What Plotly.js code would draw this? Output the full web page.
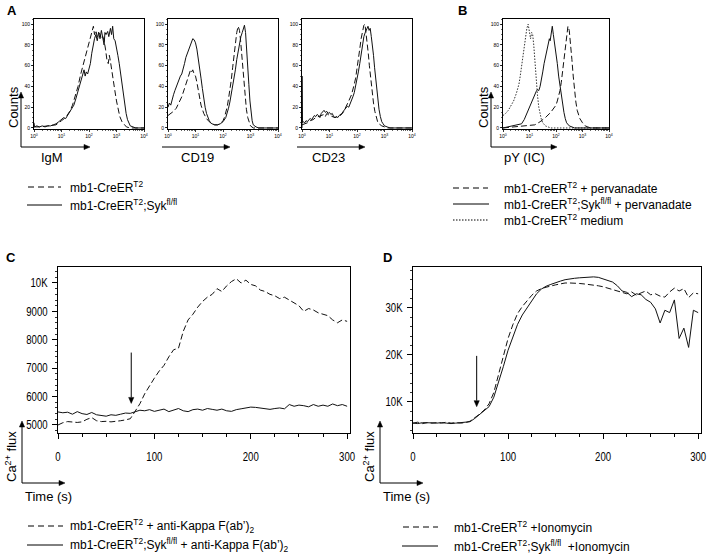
<!DOCTYPE html>
<html><head><meta charset="utf-8">
<script src="https://cdn.plot.ly/plotly-3.0.1.min.js"></script>
<style>html,body{margin:0;padding:0;background:#fff}#chart{width:709px;height:559px}</style>
</head><body><div id="chart"></div>
<script>
// ---------- Panel A: histograms (x = log10 fluorescence, y = counts) ----------
const igmCtrlX = [0,0.2,0.5,0.8,1.0,1.1,1.2,1.3,1.4,1.5,1.6,1.7,1.78,1.85,1.92,2.0,2.06,2.12,2.16,2.2,2.25,2.3,2.35,2.4,2.45,2.5,2.55,2.6,2.65,2.7,2.74,2.78,2.82,2.88,2.94,3.0,3.06,3.12,3.2,3.28,3.36,3.5,4.0];
const igmCtrlY = [1,1,2,3,7,9,12,16,22,30,40,52,60,68,75,84,90,96,98,90,94,88,92,90,86,88,84,76,66,62,70,64,56,46,36,26,18,11,6,3,1,0,0];
const igmSykX = [0,0.02,0.1,0.2,0.3,0.4,0.5,0.6,0.7,0.8,0.9,1.0,1.08,1.15,1.22,1.3,1.38,1.45,1.52,1.58,1.64,1.7,1.76,1.82,1.86,1.9,1.95,2.0,2.05,2.1,2.15,2.2,2.25,2.3,2.35,2.4,2.45,2.5,2.55,2.58,2.62,2.68,2.72,2.78,2.82,2.86,2.9,2.95,3.0,3.05,3.1,3.15,3.2,3.25,3.3,3.35,3.4,3.45,3.5,3.6,3.7,4.0];
const igmSykY = [5,1,2,1,2,1,2,2,3,4,6,8,10,9,12,15,18,22,28,34,38,44,50,56,50,54,52,58,62,72,80,86,90,84,92,86,94,88,80,92,90,93,88,96,90,98,86,84,78,70,62,52,42,32,22,14,8,4,2,1,0,0];

const cd19CtrlX = [0,0.1,0.2,0.3,0.4,0.5,0.6,0.7,0.78,0.82,0.86,0.9,0.95,1.0,1.05,1.1,1.15,1.2,1.3,1.4,1.5,1.6,1.7,1.8,1.9,2.0,2.05,2.1,2.15,2.2,2.25,2.3,2.35,2.4,2.45,2.5,2.55,2.6,2.64,2.68,2.72,2.76,2.8,2.85,2.9,2.95,3.0,3.1,4.0];
const cd19CtrlY = [12,14,16,19,24,30,38,46,52,56,54,56,52,50,44,36,28,22,14,9,6,4,3,3,4,7,10,14,20,28,36,46,58,70,82,92,98,94,84,70,56,42,30,18,10,5,2,0,0];
const cd19SykX = [0,0.05,0.1,0.15,0.2,0.25,0.3,0.35,0.4,0.45,0.5,0.55,0.6,0.65,0.7,0.75,0.8,0.85,0.9,0.95,1.0,1.05,1.1,1.15,1.2,1.25,1.3,1.35,1.4,1.45,1.5,1.55,1.6,1.7,1.8,1.9,2.0,2.1,2.15,2.2,2.25,2.3,2.35,2.4,2.45,2.5,2.55,2.6,2.65,2.7,2.75,2.78,2.82,2.86,2.9,2.94,2.98,3.02,3.06,3.1,3.2,3.3,4.0];
const cd19SykY = [20,24,22,28,32,36,40,42,46,50,52,56,62,68,72,76,80,84,86,85,82,76,68,58,48,38,28,20,14,10,7,5,4,3,3,4,6,10,14,19,25,32,40,48,56,66,74,82,88,92,97,99,92,78,60,42,26,14,7,3,1,0,0];

const cd23CtrlX = [0,0.1,0.2,0.3,0.4,0.5,0.6,0.7,0.8,0.85,0.9,1.0,1.1,1.2,1.3,1.4,1.5,1.6,1.7,1.8,1.85,1.9,1.95,2.0,2.05,2.1,2.15,2.2,2.25,2.29,2.33,2.37,2.41,2.45,2.5,2.55,2.6,2.65,2.7,2.75,2.8,2.9,3.0,3.1,4.0];
const cd23CtrlY = [3,4,5,7,8,10,11,12,13,11,14,12,11,10,11,12,15,20,26,32,36,42,48,56,66,76,86,94,99,100,92,84,72,60,46,34,24,16,10,6,4,2,1,0,0];
const cd23SykX = [0,0,0.02,0.05,0.1,0.15,0.2,0.25,0.3,0.35,0.4,0.45,0.5,0.55,0.6,0.65,0.7,0.75,0.8,0.85,0.9,0.95,1.0,1.05,1.1,1.15,1.2,1.25,1.3,1.35,1.4,1.45,1.5,1.55,1.6,1.65,1.7,1.75,1.8,1.85,1.9,1.95,2.0,2.05,2.1,2.15,2.2,2.25,2.3,2.35,2.4,2.44,2.48,2.52,2.56,2.6,2.64,2.68,2.72,2.76,2.8,2.85,2.9,2.95,3.0,3.1,3.2,4.0];
const cd23SykY = [0,50,5,6,5,7,6,8,9,8,10,12,11,13,12,10,14,16,17,15,16,14,15,13,14,11,10,11,10,12,13,14,16,18,19,21,20,23,26,30,34,40,46,54,62,72,82,88,92,96,98,94,96,88,80,70,58,46,36,26,18,11,6,4,2,1,0,0];

// ---------- Panel B: pY (IC) histograms ----------
const pyMediumX = [0,0.1,0.2,0.3,0.4,0.5,0.6,0.65,0.7,0.75,0.8,0.85,0.9,0.95,1.0,1.04,1.08,1.12,1.16,1.2,1.25,1.3,1.35,1.4,1.45,1.5,1.6,1.7,1.8,4.0];
const pyMediumY = [12,14,17,21,26,33,42,50,60,70,80,88,96,100,92,86,92,90,80,64,46,32,20,13,8,5,2,1,0,0];
const pySykX = [0,0.2,0.4,0.55,0.7,0.8,0.9,1.0,1.05,1.1,1.15,1.2,1.25,1.3,1.35,1.4,1.45,1.5,1.55,1.6,1.65,1.7,1.75,1.78,1.82,1.86,1.9,1.95,2.0,2.05,2.1,2.15,2.2,2.25,2.3,2.35,2.4,2.5,2.6,2.7,4.0];
const pySykY = [0,1,2,3,4,8,14,20,24,27,30,33,35,37,36,40,46,54,62,68,74,80,86,84,92,98,90,82,72,62,50,40,30,22,15,9,5,2,1,0,0];
const pyCtrlX = [0,0.5,1.0,1.2,1.4,1.6,1.8,1.9,2.0,2.05,2.1,2.15,2.2,2.25,2.3,2.35,2.4,2.45,2.5,2.55,2.6,2.65,2.7,2.75,2.8,2.9,3.0,3.1,3.2,3.3,4.0];
const pyCtrlY = [0,1,2,3,6,10,15,18,22,26,30,36,44,56,68,80,92,98,94,82,66,50,36,25,17,9,5,2,1,0,0];

const decadeVals = [0,1,2,3,4];
const decadeLabels = ['10<sup>0</sup>','10<sup>1</sup>','10<sup>2</sup>','10<sup>3</sup>','10<sup>4</sup>'];
const countVals = [0,20,40,60,80,100];
const countLabels = ['0','20','40','60','80','100'];

// ---------- Panels C & D: Ca2+ flux over time ----------
const timeS = [0,5,10,15,20,25,30,35,40,45,50,55,60,65,70,75,80,85,90,95,100,105,110,115,120,125,130,135,140,145,150,155,160,165,170,175,180,185,190,195,200,205,210,215,220,225,230,235,240,245,250,255,260,265,270,275,280,285,290,295,300];
const fluxC_ctrl = [5000,5080,5120,5100,5090,5110,5200,5260,5150,5120,5130,5110,5120,5150,5180,5220,5480,5750,6100,6400,6650,6900,7100,7400,7650,7700,8300,8700,8900,9150,9350,9500,9600,9800,9700,9900,10050,10150,10000,10100,9950,9900,9750,9700,9600,9550,9450,9500,9400,9300,9200,9000,9100,9050,8950,8900,8850,8700,8600,8700,8650];
const fluxC_syk = [5460,5430,5450,5380,5470,5400,5370,5440,5360,5330,5310,5360,5340,5380,5420,5410,5470,5520,5500,5540,5480,5530,5560,5470,5520,5580,5500,5470,5540,5560,5520,5580,5550,5520,5560,5500,5480,5540,5570,5600,5630,5620,5600,5580,5550,5580,5600,5570,5720,5660,5700,5680,5640,5720,5660,5700,5660,5740,5680,5720,5660];
const fluxD_ctrl = [5500,5700,5400,5600,5500,5600,5500,5700,5500,5600,5500,5600,5900,6600,7400,8300,9600,12000,16000,19800,23500,26400,28800,30300,31500,32700,33600,34100,34400,34700,34900,35100,35300,35300,35300,35200,35100,35000,34900,34700,34500,34200,33900,33500,33200,33000,33400,32700,33200,33600,32800,33000,32500,32300,33400,34200,33600,34100,32200,33200,33000];
const fluxD_syk = [5500,5400,5600,5500,5550,5500,5600,5500,5400,5500,5600,5600,5800,6500,7300,8000,9000,11000,14000,17500,21000,24000,26500,28500,30000,31500,33000,34000,34600,35000,35400,35700,36000,36200,36300,36400,36500,36550,36600,36500,36200,35900,35500,34700,33600,33300,32400,33000,32800,31800,31200,29800,26800,29500,29000,31700,23500,25700,21600,29500,29000];
const cTickVals = [5000,6000,7000,8000,9000,10000];
const cTickText = ['5000','6000','7000','8000','9000','10K'];
const dTickVals = [10000,20000,30000];
const dTickText = ['10K','20K','30K'];
const timeTicks = [0,100,200,300];
// stimulus arrows: [time, tail value, head value]
const stimC = [76, 7550, 5760];
const stimD = [67, 19800, 9000];

// ---------- layout helpers ----------
const W = 709, H = 559;
const xd = (a, b) => [a / W, b / W];
const yd = (top, bot) => [(H - bot) / H, (H - top) / H];
const px = x => x / W, py = y => (H - y) / H;
const FONT = 'Liberation Sans, Arial, Helvetica, sans-serif';
const NARROW = 'Liberation Sans Narrow, Arial Narrow, Liberation Sans, Arial, sans-serif';

const minorLog = [];
for (let d = 0; d < 4; d++) for (let k = 2; k <= 9; k++) minorLog.push(d + Math.log10(k));

function histX(dom, anchor) {
  return {domain: dom, anchor: anchor, range: [0, 4], showline: true, mirror: true, linecolor: '#000', linewidth: 1,
    ticks: 'outside', ticklen: 2, tickwidth: 0.8, tickcolor: '#000', tickvals: decadeVals, ticktext: decadeLabels,
    tickfont: {size: 5, color: '#000', family: FONT}, showgrid: false, zeroline: false, ticklabelstandoff: 0,
    minor: {ticks: 'outside', tickvals: minorLog, ticklen: 1.2, tickwidth: 0.6, tickcolor: '#000', showgrid: false}};
}
function histY(dom, anchor) {
  return {domain: dom, anchor: anchor, range: [-1, 105], showline: true, mirror: true, linecolor: '#000', linewidth: 1,
    ticks: 'outside', ticklen: 2, tickwidth: 0.8, tickcolor: '#000', tickvals: countVals, ticktext: countLabels,
    tickfont: {size: 5, color: '#000', family: FONT}, showgrid: false, zeroline: false, ticklabelstandoff: 0,
    minor: {ticks: 'outside', dtick: 5, ticklen: 1.2, tickwidth: 0.6, tickcolor: '#000', showgrid: false}};
}
function timeX(dom, anchor, rng) {
  return {domain: dom, anchor: anchor, range: rng, showline: true, mirror: true, linecolor: '#000', linewidth: 1,
    ticks: 'outside', ticklen: 5, tickwidth: 1, tickcolor: '#000', tickvals: timeTicks, ticklabeloverflow: 'allow',
    tickfont: {size: 12, color: '#000', family: NARROW}, showgrid: false, zeroline: false, ticklabelstandoff: 8,
    minor: {ticks: 'outside', dtick: 25, ticklen: 3, tickwidth: 1, tickcolor: '#000', showgrid: false}};
}
function fluxY(dom, anchor, rng, tv, tt, mdt) {
  return {domain: dom, anchor: anchor, range: rng, showline: true, mirror: true, linecolor: '#000', linewidth: 1,
    ticks: 'outside', ticklen: 5, tickwidth: 1, tickcolor: '#000', tickvals: tv, ticktext: tt,
    tickfont: {size: 12, color: '#000', family: NARROW}, showgrid: false, zeroline: false, ticklabelstandoff: 2,
    minor: {ticks: 'outside', dtick: mdt, ticklen: 2, tickwidth: 0.8, tickcolor: '#000', showgrid: false}};
}

const SOLID = {color: '#111', width: 1};
const DASH = {color: '#111', width: 1, dash: '6px,3px'};
const DOT = {color: '#333', width: 1, dash: '1.5px,1.5px'};
function tr(x, y, xa, ya, line) {
  return {type: 'scatter', mode: 'lines', x: x, y: y, xaxis: xa, yaxis: ya, line: line, hoverinfo: 'skip', showlegend: false};
}

const data = [
  tr(igmCtrlX, igmCtrlY, 'x', 'y', DASH), tr(igmSykX, igmSykY, 'x', 'y', SOLID),
  tr(cd19CtrlX, cd19CtrlY, 'x2', 'y2', DASH), tr(cd19SykX, cd19SykY, 'x2', 'y2', SOLID),
  tr(cd23CtrlX, cd23CtrlY, 'x3', 'y3', DASH), tr(cd23SykX, cd23SykY, 'x3', 'y3', SOLID),
  tr(pyMediumX, pyMediumY, 'x4', 'y4', DOT), tr(pySykX, pySykY, 'x4', 'y4', SOLID), tr(pyCtrlX, pyCtrlY, 'x4', 'y4', DASH),
  tr(timeS, fluxC_ctrl, 'x5', 'y5', DASH), tr(timeS, fluxC_syk, 'x5', 'y5', SOLID),
  tr(timeS, fluxD_ctrl, 'x6', 'y6', DASH), tr(timeS, fluxD_syk, 'x6', 'y6', SOLID)
];

const yHist = yd(19, 129);
const C_BOX = {x0: 58, x1: 350, top: 267, bot: 433, xr: [0, 303], yr: [4718, 10563]};
const D_BOX = {x0: 413, x1: 701, top: 267, bot: 433, xr: [0, 303], yr: [3400, 38700]};
const layout = {
  width: W, height: H, margin: {l: 0, r: 0, t: 0, b: 0}, paper_bgcolor: '#fff', plot_bgcolor: '#fff',
  showlegend: false, font: {family: FONT, color: '#000'},
  xaxis: histX(xd(34, 144), 'y'), yaxis: histY(yHist, 'x'),
  xaxis2: histX(xd(168, 278), 'y2'), yaxis2: histY(yHist, 'x2'),
  xaxis3: histX(xd(302, 412), 'y3'), yaxis3: histY(yHist, 'x3'),
  xaxis4: histX(xd(503, 609), 'y4'), yaxis4: histY(yHist, 'x4'),
  xaxis5: timeX(xd(C_BOX.x0, C_BOX.x1), 'y5', C_BOX.xr), yaxis5: fluxY(yd(C_BOX.top, C_BOX.bot), 'x5', C_BOX.yr, cTickVals, cTickText, 200),
  xaxis6: timeX(xd(D_BOX.x0, D_BOX.x1), 'y6', D_BOX.xr), yaxis6: fluxY(yd(D_BOX.top, D_BOX.bot), 'x6', D_BOX.yr, dTickVals, dTickText, 2000),
  shapes: [], annotations: []
};

function txt(x, y, text, opts) {
  layout.annotations.push(Object.assign({xref: 'paper', yref: 'paper', x: px(x), y: py(y), text: text, showarrow: false,
    xanchor: 'left', yanchor: 'middle', font: {size: 12, family: FONT, color: '#000'}}, opts || {}));
}
// arrow drawn as shapes: head at (x1,y1), tail at (x0,y0) in pixels
function arrow(x1, y1, x0, y0) {
  const L = Math.hypot(x1 - x0, y1 - y0), dx = (x1 - x0) / L, dy = (y1 - y0) / L;
  const hl = 6, hw = 2.6;
  const bx = x1 - hl * dx, by = y1 - hl * dy;
  layout.shapes.push({type: 'line', xref: 'paper', yref: 'paper', x0: px(x0), y0: py(y0), x1: px(bx), y1: py(by),
    line: {color: '#000', width: 1}});
  const p = (x, y) => px(x) + ',' + py(y);
  layout.shapes.push({type: 'path', xref: 'paper', yref: 'paper',
    path: 'M' + p(x1, y1) + ' L' + p(bx - hw * dy, by + hw * dx) + ' L' + p(bx + hw * dy, by - hw * dx) + ' Z',
    fillcolor: '#000', line: {color: '#000', width: 0.5}});
}
function dataPx(box, t, v) {
  return [box.x0 + (t - box.xr[0]) / (box.xr[1] - box.xr[0]) * (box.x1 - box.x0),
          box.bot - (v - box.yr[0]) / (box.yr[1] - box.yr[0]) * (box.bot - box.top)];
}
function stimArrow(box, s) {
  const head = dataPx(box, s[0], s[2]), tail = dataPx(box, s[0], s[1]);
  arrow(head[0], head[1], tail[0], tail[1]);
}
function seg(x0, x1, y, dash) {
  layout.shapes.push({type: 'line', xref: 'paper', yref: 'paper', x0: px(x0), x1: px(x1), y0: py(y), y1: py(y),
    line: {color: '#000', width: 1, dash: dash}});
}

// panel letters
txt(5, 10, '<b>A</b>', {font: {size: 13, family: FONT}});
txt(456, 10, '<b>B</b>', {font: {size: 13, family: FONT}});
txt(4, 257, '<b>C</b>', {font: {size: 13, family: FONT}});
txt(381, 257, '<b>D</b>', {font: {size: 13, family: FONT}});

// Panel A axis indicators
txt(13, 107, 'Counts', {xanchor: 'center', textangle: -90, font: {size: 13, family: FONT}});
arrow(21, 92, 21, 147); arrow(90, 147, 21, 147);
arrow(230, 147, 162, 147); arrow(365, 147, 297, 147);
txt(52, 158, 'IgM', {xanchor: 'center', font: {size: 13, family: FONT}});
txt(197, 158, 'CD19', {xanchor: 'center', font: {size: 13, family: FONT}});
txt(328, 158, 'CD23', {xanchor: 'center', font: {size: 13, family: FONT}});
// Panel B axis indicators
txt(483, 107, 'Counts', {xanchor: 'center', textangle: -90, font: {size: 13, family: FONT}});
arrow(491, 92, 491, 147); arrow(557, 147, 491, 147);
txt(524, 158, 'pY (IC)', {xanchor: 'center', font: {size: 13, family: FONT}});

// legends A
seg(28, 61, 187, '6px,4px'); txt(68, 187, 'mb1-CreER<sup>T2</sup>');
seg(27, 62, 205, 'solid'); txt(68, 205, 'mb1-CreER<sup>T2</sup>;Syk<sup>fl/fl</sup>');
// legends B
seg(453, 488, 188, '6px,4px'); txt(502, 188, 'mb1-CreER<sup>T2</sup> + pervanadate');
seg(453, 489, 204, 'solid'); txt(502, 204, 'mb1-CreER<sup>T2</sup>;Syk<sup>fl/fl</sup> + pervanadate');
seg(453, 489, 220, '1.5px,1.5px'); txt(502, 220, 'mb1-CreER<sup>T2</sup> medium');

// Panels C, D axis indicators
[22, 380].forEach(ax => {
  txt(ax - 11, 457, 'Ca<sup>2+</sup> flux', {xanchor: 'center', textangle: -90, font: {size: 13, family: FONT}});
  arrow(ax, 421, ax, 483); arrow(ax + 43, 483, ax, 483);
  txt(ax + 1, 496, 'Time (s)', {font: {size: 13, family: FONT}});
});
stimArrow(C_BOX, stimC);
stimArrow(D_BOX, stimD);

// legends C
seg(28, 63, 526, '6px,4px'); txt(68, 526, 'mb1-CreER<sup>T2</sup> + anti-Kappa F(ab’)<sub>2</sub>');
seg(27, 63, 545, 'solid'); txt(68, 545, 'mb1-CreER<sup>T2</sup>;Syk<sup>fl/fl</sup> + anti-Kappa F(ab’)<sub>2</sub>');
// legends D
seg(403, 438, 527, '6px,4px'); txt(452, 527, 'mb1-CreER<sup>T2</sup> +Ionomycin');
seg(402, 438, 546, 'solid'); txt(452, 546, 'mb1-CreER<sup>T2</sup>;Syk<sup>fl/fl</sup>  +Ionomycin');

Plotly.newPlot('chart', data, layout, {staticPlot: true, displayModeBar: false}).then(gd => {
  // condensed look for the flux-panel tick labels (reference uses a narrow face)
  gd.querySelectorAll('.x5tick text, .y5tick text, .x6tick text, .y6tick text').forEach(t => {
    try {
      const w = t.getComputedTextLength();
      if (w > 0) { t.setAttribute('textLength', (w * 0.8).toFixed(2)); t.setAttribute('lengthAdjust', 'spacingAndGlyphs'); }
    } catch (e) {}
  });
});
</script></body></html>
